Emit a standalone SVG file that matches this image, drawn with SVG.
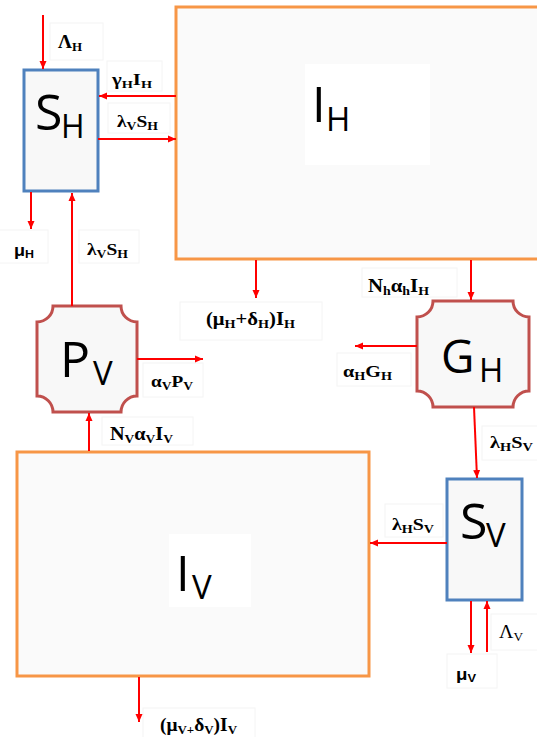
<svg xmlns="http://www.w3.org/2000/svg" width="537" height="737" viewBox="0 0 537 737">
<style>
.bg{fill:#ffffff}
.lb{fill:#ffffff;stroke:#f4f4f4;stroke-width:1}
.blue{fill:#f8f8f8;stroke:#4f81bd;stroke-width:3}
.orange{fill:#fafafa;stroke:#f79646;stroke-width:3}
.plaque{fill:#f8f8f8;stroke:#c0504d;stroke-width:3}
.big{font-family:"Open Sans","Noto Sans",sans-serif;fill:#000}
.m{font-family:"Liberation Serif","Times New Roman",serif;font-weight:bold;fill:#000}
.mr{font-family:"Liberation Serif","Times New Roman",serif;fill:#000}
.ms{font-family:"Liberation Sans",Arial,sans-serif;font-weight:bold;fill:#000}
.c{stroke:#ff0000;stroke-width:2;fill:none;marker-end:url(#ah)}
</style>
<defs>
<marker id="ah" markerUnits="userSpaceOnUse" markerWidth="9" markerHeight="8" refX="8" refY="4" orient="auto">
<path d="M0,0.5 L8,4 L0,7.5 z" fill="#ff0000"/>
</marker>
</defs>
<rect class="bg" x="0" y="0" width="537" height="737"/>

<g id="IH">
<rect class="orange" x="176" y="7" width="375" height="252"/>
<rect fill="#ffffff" x="305" y="64" width="125" height="101"/>
<text class="big" x="312" y="122" font-size="49">I<tspan x="326" y="131" font-size="33">H</tspan></text>
</g>

<g id="SH">
<rect class="blue" x="24" y="70" width="74" height="121"/>
<text class="big" x="35" y="130" font-size="50">S<tspan x="61" y="138" font-size="32">H</tspan></text>
</g>

<g id="PV">
<path class="plaque" d="M53,306 H121 A16,16 0 0 0 137,322 V396 A16,16 0 0 0 121,412 H53 A16,16 0 0 0 37,396 V322 A16,16 0 0 0 53,306 Z"/>
<text class="big" x="60" y="377" font-size="50">P<tspan x="93" y="385" font-size="33">V</tspan></text>
</g>

<g id="GH">
<path class="plaque" d="M433,301 H513 A16,16 0 0 0 529,317 V391 A16,16 0 0 0 513,407 H433 A16,16 0 0 0 417,391 V317 A16,16 0 0 0 433,301 Z"/>
<text class="big" x="441" y="373" font-size="46">G<tspan x="479" y="382" font-size="33">H</tspan></text>
</g>

<g id="SV">
<rect class="blue" x="447" y="479" width="75" height="121"/>
<text class="big" x="460" y="539" font-size="50">S<tspan x="486" y="547" font-size="33">V</tspan></text>
</g>

<g id="IV">
<rect class="orange" x="17" y="452" width="352" height="224"/>
<rect fill="#ffffff" x="169" y="534" width="82" height="73"/>
<text class="big" x="176" y="591" font-size="49">I<tspan x="192" y="599" font-size="33">V</tspan></text>
</g>

<g id="labels">
<rect class="lb" x="50" y="23" width="53" height="37"/>
<text class="m" x="58" y="48" font-size="18" textLength="24" lengthAdjust="spacingAndGlyphs">Λ<tspan y="51" font-size="12">H</tspan></text>

<rect class="lb" x="107" y="61" width="55" height="30"/>
<text class="m" x="112" y="85" font-size="16" textLength="40" lengthAdjust="spacingAndGlyphs">γ<tspan y="88" font-size="11">H</tspan><tspan y="85">I</tspan><tspan y="88" font-size="11">H</tspan></text>

<rect class="lb" x="108" y="103" width="62" height="30"/>
<text class="m" x="117" y="127" font-size="17" textLength="41" lengthAdjust="spacingAndGlyphs">λ<tspan y="130" font-size="12">V</tspan><tspan y="127">S</tspan><tspan y="130" font-size="12">H</tspan></text>

<rect class="lb" x="-1" y="230" width="49" height="33"/>
<text class="ms" x="14" y="256" font-size="16" textLength="20" lengthAdjust="spacingAndGlyphs">μ<tspan y="258" font-size="11">H</tspan></text>

<rect class="lb" x="79" y="230" width="60" height="33"/>
<text class="m" x="87" y="255" font-size="17" textLength="41" lengthAdjust="spacingAndGlyphs">λ<tspan y="258" font-size="12">V</tspan><tspan y="255">S</tspan><tspan y="258" font-size="12">H</tspan></text>

<rect class="lb" x="143" y="363" width="60" height="34"/>
<text class="m" x="151" y="387" font-size="17" textLength="42" lengthAdjust="spacingAndGlyphs">α<tspan y="390" font-size="12">V</tspan><tspan y="387">P</tspan><tspan y="390" font-size="12">V</tspan></text>

<rect class="lb" x="180" y="302" width="142" height="38"/>
<text class="m" x="206" y="325" font-size="19" textLength="89" lengthAdjust="spacingAndGlyphs">(μ<tspan y="328" font-size="13">H</tspan><tspan y="325">+δ</tspan><tspan y="328" font-size="13">H</tspan><tspan y="325">)I</tspan><tspan y="328" font-size="13">H</tspan></text>

<rect class="lb" x="362" y="268" width="95" height="29"/>
<text class="m" x="368" y="292" font-size="18" textLength="61" lengthAdjust="spacingAndGlyphs">N<tspan y="295" font-size="12">h</tspan><tspan y="292">α</tspan><tspan y="295" font-size="12">h</tspan><tspan y="292">I</tspan><tspan y="295" font-size="12">H</tspan></text>

<rect class="lb" x="337" y="353" width="74" height="33"/>
<text class="m" x="343" y="377" font-size="17" textLength="49" lengthAdjust="spacingAndGlyphs">α<tspan y="380" font-size="12">H</tspan><tspan y="377">G</tspan><tspan y="380" font-size="12">H</tspan></text>

<rect class="lb" x="482" y="426" width="56" height="34"/>
<text class="m" x="490" y="448" font-size="17" textLength="43" lengthAdjust="spacingAndGlyphs">λ<tspan y="451" font-size="12">H</tspan><tspan y="448">S</tspan><tspan y="451" font-size="12">V</tspan></text>

<rect class="lb" x="385" y="504" width="58" height="33"/>
<text class="m" x="392" y="530" font-size="17" textLength="42" lengthAdjust="spacingAndGlyphs">λ<tspan y="533" font-size="12">H</tspan><tspan y="530">S</tspan><tspan y="533" font-size="12">V</tspan></text>

<rect class="lb" x="102" y="417" width="91" height="28"/>
<text class="m" x="110" y="440" font-size="18" textLength="63" lengthAdjust="spacingAndGlyphs">N<tspan y="443" font-size="12">V</tspan><tspan y="440">α</tspan><tspan y="443" font-size="12">V</tspan><tspan y="440">I</tspan><tspan y="443" font-size="12">V</tspan></text>

<rect class="lb" x="491" y="614" width="47" height="36"/>
<text class="mr" x="499" y="638" font-size="18" textLength="24" lengthAdjust="spacingAndGlyphs">Λ<tspan y="641" font-size="12">V</tspan></text>

<rect class="lb" x="447" y="654" width="50" height="34"/>
<text class="ms" x="456" y="680" font-size="16" textLength="20" lengthAdjust="spacingAndGlyphs">μ<tspan y="682" font-size="11">V</tspan></text>

<rect class="lb" x="143" y="708" width="112" height="30"/>
<text class="m" x="160" y="731" font-size="18" textLength="77" lengthAdjust="spacingAndGlyphs">(μ<tspan y="734" font-size="12">V+</tspan><tspan y="731">δ</tspan><tspan y="734" font-size="12">V</tspan><tspan y="731">)I</tspan><tspan y="734" font-size="12">V</tspan></text>
</g>

<g id="connectors">
<line class="c" x1="43" y1="15" x2="43" y2="69"/>
<line class="c" x1="176" y1="96" x2="99" y2="96"/>
<line class="c" x1="98" y1="139" x2="176" y2="139"/>
<line class="c" x1="31" y1="192" x2="31" y2="229"/>
<line class="c" x1="72" y1="306" x2="72" y2="193"/>
<line class="c" x1="137" y1="359" x2="203" y2="359"/>
<line class="c" x1="256" y1="260" x2="256" y2="298"/>
<line class="c" x1="471" y1="260" x2="471" y2="300"/>
<line class="c" x1="417" y1="346" x2="355" y2="346"/>
<line class="c" x1="474" y1="407" x2="477" y2="478"/>
<line class="c" x1="447" y1="543" x2="370" y2="543"/>
<line class="c" x1="89" y1="451" x2="89" y2="413"/>
<line class="c" x1="471" y1="601" x2="471" y2="653"/>
<line class="c" x1="487" y1="652" x2="487" y2="601"/>
<line class="c" x1="139" y1="677" x2="139" y2="722"/>
</g>
</svg>
